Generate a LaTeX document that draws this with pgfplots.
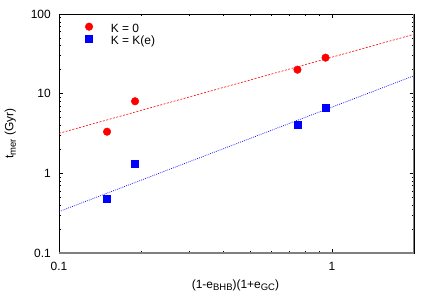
\documentclass[border=0pt]{standalone}
\usepackage{fontspec}
\setmainfont{Liberation Sans}
\usepackage{pgfplots}
\pgfplotsset{compat=1.18}
\newcommand{\sub}[1]{\raisebox{-0.4ex}{\fontsize{9.5}{10}\selectfont #1}}
\begin{document}
\fontsize{12}{14}\selectfont
\begin{tikzpicture}
\path[use as bounding box] (-59bp,-52bp) rectangle (377bp,253bp);
\begin{axis}[
  at={(0,0)}, anchor=south west,
  scale only axis, width=355bp, height=239bp,
  xmode=log, ymode=log,
  xmin=0.1, xmax=2, ymin=0.1, ymax=100,
  xtick={0.1,1}, xticklabels={0.1,1},
  ytick={0.1,1,10,100}, yticklabels={0.1,1,10,100},
  tick align=inside,
  major tick length=4bp, minor tick length=2bp,
  every tick/.style={black, line width=0.4pt},
  axis line style={black, line width=0.6pt},
  /pgf/number format/assume math mode=true,
  tick label style={font=\fontsize{12}{14}\selectfont, inner sep=0pt},
  xticklabel style={anchor=center, yshift=-13bp},
  yticklabel style={anchor=east, xshift=-8bp},
  xlabel={(1-e\sub{BHB})(1+e\sub{GC})},
  ylabel={t\sub{mer} (Gyr)},
  xlabel style={at={(axis description cs:0.497,-0.134)}, anchor=center},
  ylabel style={at={(axis description cs:-0.137,0.5)}, anchor=center},
  legend style={draw=none, fill=none, at={(0.065,0.972)}, anchor=north west,
    font=\fontsize{12}{14}\selectfont, row sep=0bp,
    nodes={inner sep=0pt, text height=8.6bp, text depth=2.6bp},
    /tikz/every even column/.append style={column sep=0bp},
    /tikz/every odd column/.append style={column sep=18bp}},
  legend image post style={yshift=3bp},
  legend cell align=left,
  clip=true,
]
\addplot[only marks, mark=*, color=red, mark size=3.8bp, mark options={fill=red, draw=red}]
  coordinates {(0.150,3.33) (0.190,8.03) (0.748,20.0) (0.948,28.3)};
\addlegendentry{K = 0}
\addplot[only marks, mark=square*, color=blue, mark size=3.5bp, mark options={fill=blue, draw=blue}]
  coordinates {(0.150,0.487) (0.190,1.34) (0.748,4.13) (0.948,6.75)};
\addlegendentry{K = K(e)}
\addplot[red, line width=0.6pt, dash pattern=on 2bp off 1.5bp, forget plot]
  coordinates {(0.1,3.18) (2,55.6)};
\addplot[blue, line width=0.7pt, dash pattern=on 0.8bp off 1.2bp, forget plot]
  coordinates {(0.1,0.331) (2,16.8)};
\draw[gray, line width=1.3pt] (rel axis cs:0,0) -- (rel axis cs:1,0) -- (rel axis cs:1,1);
\end{axis}
\end{tikzpicture}
\end{document}
